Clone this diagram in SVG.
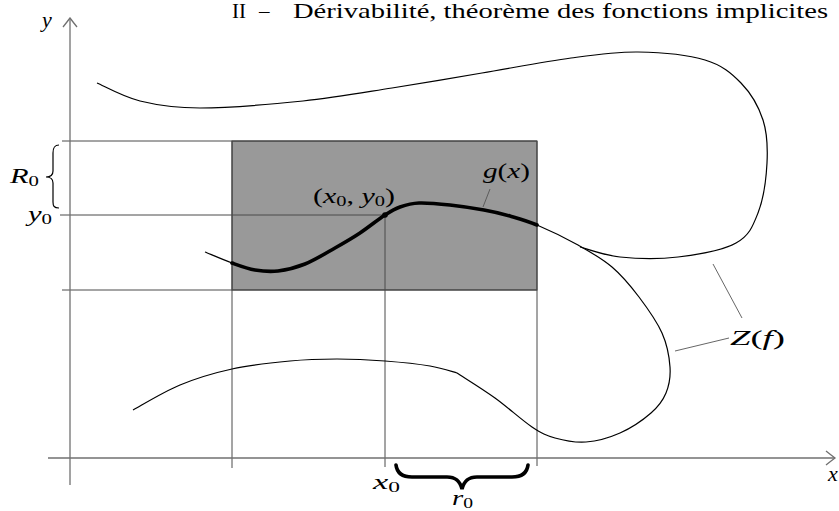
<svg xmlns="http://www.w3.org/2000/svg" width="839" height="511" viewBox="0 0 839 511">
<style>
  .ax{stroke:#707070;stroke-width:1.3;fill:none}
  .gr{stroke:#4a4a4a;stroke-width:1;fill:none}
  .cv{stroke:#000;stroke-width:1.2;fill:none}
  .th{stroke:#000;stroke-width:3.6;fill:none;stroke-linecap:round}
  .ld{stroke:#555;stroke-width:0.9;fill:none}
  text{font-family:"Liberation Serif","Times New Roman",serif;fill:#000}
  .m{font-size:22px;font-style:italic}
  .r{font-style:normal}
  .s{font-size:15px;font-style:normal}
  .t{font-size:21px}
</style>
<rect width="839" height="511" fill="#fff"/>
<g id="region">
  <rect x="232" y="141" width="305" height="149" fill="#999999" stroke="#333" stroke-width="1"/>
</g>
<g id="grid">
  <line class="gr" x1="62" y1="141" x2="537" y2="141"/>
  <line class="gr" x1="60" y1="215" x2="385" y2="215"/>
  <line class="gr" x1="62" y1="290" x2="537" y2="290"/>
  <line class="gr" x1="232" y1="141" x2="232" y2="468"/>
  <line class="gr" x1="385" y1="215" x2="385" y2="467"/>
  <line class="gr" x1="537" y1="141" x2="537" y2="466"/>
</g>
<g id="axes">
  <line class="ax" x1="70" y1="485" x2="70" y2="18"/>
  <path class="ax" d="M63,27 Q67,22 70,18 Q73,22 77,27"/>
  <line class="ax" x1="48" y1="458" x2="835" y2="458"/>
  <path class="ax" d="M826,451 Q831,455 835,458 Q831,461 826,465"/>
</g>
<g id="curves">
  <path id="zf-upper" class="cv" d="M97,83 C104.2,86 122.8,96.8 140,101 C157.2,105.2 172.8,108 200,108 C227.2,108 271,104.3 303,101 C335,97.7 362.2,92.7 392,88 C421.8,83.3 452.2,78 482,73 C511.8,68 545,61.5 571,58 C597,54.5 615.7,51.7 638,52 C660.3,52.3 687.8,54.8 705,60 C722.2,65.2 731.3,73 741,83 C750.7,93 758.7,106.7 763,120 C767.3,133.3 767.8,147.5 767,163 C766.2,178.5 763.2,199.7 758,213 C752.8,226.3 749.3,235.7 736,243 C722.7,250.3 697.3,254.7 678,257 C658.7,259.3 636.3,258.7 620,257 C603.7,255.3 586.7,248.7 580,247"/>
  <path id="zf-lower" class="cv" d="M133,410 C140.8,405.8 163.5,391.8 180,385 C196.5,378.2 213.7,373 232,369 C250.3,365 272.5,362.7 290,361 C307.5,359.3 321.2,359 337,359 C352.8,359 369.5,359.8 385,361 C400.5,362.2 418,364 430,366 C442,368 452.5,371.8 457,373 C463.3,377.2 482.5,389 495,398 C507.5,407 522,420.3 532,427 C542,433.7 546,435.5 555,438 C564,440.5 575.2,442.8 586,442 C596.8,441.2 609.2,437.8 620,433 C630.8,428.2 643.3,419.7 651,413 C658.7,406.3 662.8,400.7 666,393 C669.2,385.3 670.7,377 670,367 C669.3,357 667.2,344.7 662,333 C656.8,321.3 647.3,308 639,297 C630.7,286 622.2,275.7 612,267 C601.8,258.3 590.5,252 578,245 C565.5,238 548.3,229.8 537,225"/>
  <path id="zf-tail" class="cv" d="M232,263 C223.7,260 209.5,253.8 205,252"/>
  <path id="g" class="th" d="M537,225 C525.7,220.2 518.8,218.5 510,216 C501.2,213.5 494,211.8 484,210 C474,208.2 460.8,206.2 450,205 C439.2,203.8 427.3,202.7 419,203 C410.7,203.3 405.7,205 400,207 C394.3,209 391.7,210.7 385,215 C378.3,219.3 368.3,227.5 360,233 C351.7,238.5 344.2,242.8 335,248 C325.8,253.2 314.5,260.2 305,264 C295.5,267.8 286.3,270 278,271 C269.7,272 262.7,271.3 255,270 C247.3,268.7 240.3,266 232,263"/>
  <circle cx="385" cy="215" r="2.8" fill="#000"/>
</g>
<g id="braces">
  <path class="cv" stroke-width="1.4" d="M59,145 C54,145 53,148 53,153 L53,171 C53,175 50,177 46,177 C50,177 53,179 53,183 L53,202 C53,206 54,208 59,208"/>
  <path class="th" stroke-width="3.4" d="M396,465 C397,473 402,477 412,477 L447,477 C456,477 460,481 462,489 C464,481 468,477 477,477 L512,477 C522,477 527,473 528,465"/>
</g>
<g id="leaders">
  <line class="ld" x1="490" y1="189" x2="483" y2="207"/>
  <line class="ld" x1="742" y1="318" x2="713" y2="264"/>
  <line class="ld" x1="729" y1="338" x2="675" y2="351"/>
</g>
<g id="labels">
  <text class="t" x="232" y="18">II<tspan x="259">–</tspan></text>
  <text class="t" x="293" y="18" textLength="535" lengthAdjust="spacingAndGlyphs">Dérivabilité, théorème des fonctions implicites</text>
  <text class="m" x="42" y="27">y</text>
  <text class="m" x="828" y="481">x</text>
  <text class="m" x="10" y="183" textLength="29" lengthAdjust="spacingAndGlyphs">R<tspan class="s" dy="3">0</tspan></text>
  <text class="m" x="28" y="221" textLength="24" lengthAdjust="spacingAndGlyphs">y<tspan class="s" dy="3">0</tspan></text>
  <text class="m" x="373" y="489" textLength="27" lengthAdjust="spacingAndGlyphs">x<tspan class="s" dy="3">0</tspan></text>
  <text class="m" x="452" y="505" textLength="21" lengthAdjust="spacingAndGlyphs">r<tspan class="s" dy="3">0</tspan></text>
  <text class="m" x="313" y="203" textLength="82" lengthAdjust="spacingAndGlyphs"><tspan class="r">(</tspan>x<tspan class="s" dy="3">0</tspan><tspan class="r" dy="-3">, </tspan>y<tspan class="s" dy="3">0</tspan><tspan class="r" dy="-3">)</tspan></text>
  <text class="m" x="483" y="178" textLength="47" lengthAdjust="spacingAndGlyphs">g<tspan class="r">(</tspan>x<tspan class="r">)</tspan></text>
  <text class="m" x="730" y="345" textLength="55" lengthAdjust="spacingAndGlyphs">Z<tspan class="r">(</tspan>f<tspan class="r">)</tspan></text>
</g>
</svg>
